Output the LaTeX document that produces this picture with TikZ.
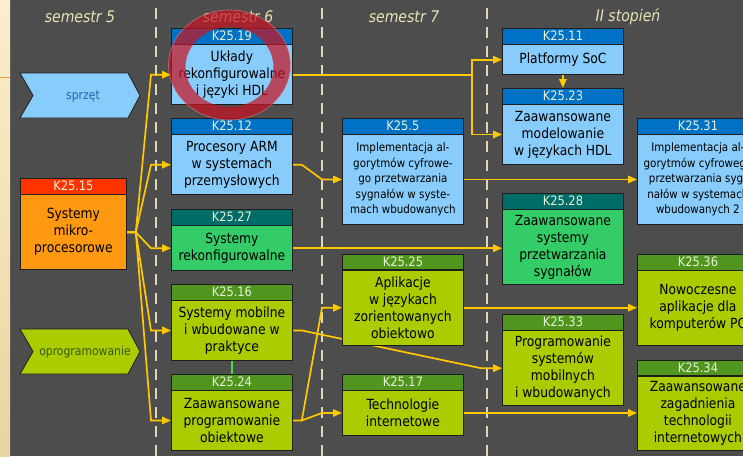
\documentclass[tikz,border=0pt]{standalone}
\usepackage{fontspec}
\setmainfont{DejaVu Sans}[FakeStretch=0.88]
\usetikzlibrary{arrows.meta}

\definecolor{tlo}{RGB}{77,77,77}
\definecolor{ramka}{RGB}{30,30,30}
\definecolor{hwciemny}{RGB}{0,114,198}
\definecolor{hwjasny}{RGB}{135,204,250}
\definecolor{dspciemny}{RGB}{0,108,104}
\definecolor{dspjasny}{RGB}{51,204,102}
\definecolor{swciemny}{RGB}{80,150,30}
\definecolor{swjasny}{RGB}{170,204,0}
\definecolor{mpciemny}{RGB}{255,51,0}
\definecolor{mpjasny}{RGB}{255,153,17}
\definecolor{napis}{RGB}{232,240,215}
\definecolor{strzalka}{RGB}{255,200,0}
\definecolor{kreska}{RGB}{220,215,185}
\definecolor{semtekst}{RGB}{232,226,180}
\definecolor{pierscien}{RGB}{200,20,35}
\definecolor{zielony}{RGB}{60,230,60}
\definecolor{sprzettekst}{RGB}{40,100,170}
\definecolor{oprogtekst}{RGB}{60,90,10}
\definecolor{pasgora}{RGB}{252,238,205}
\definecolor{pasdol}{RGB}{232,214,160}
\definecolor{paslinia}{RGB}{240,160,60}

\pgfdeclarelayer{bg}
\pgfdeclarelayer{wires}
\pgfsetlayers{bg,wires,main}

% course box: header with code, body with title
\newcommand{\kurs}[8][]{%
	\node[#3head, anchor=north west] (#2h) at (#4,#5) {#6};
	\node[#3body, #1, anchor=north, minimum height=#7pt] (#2) at (#2h.south) {#8};}

\begin{document}
\begin{tikzpicture}[x=1pt,y=-1pt,
	kbox/.style={draw=ramka, line width=0.8pt, minimum width=121pt, inner sep=0pt, align=center},
	khead/.style={kbox, minimum height=15.5pt, text=napis, font=\fontsize{13}{15}\selectfont},
	kbody/.style={kbox, text=black, font=\fontsize{14}{17}\selectfont},
	hwhead/.style={khead, fill=hwciemny},
	hwbody/.style={kbody, fill=hwjasny},
	dsphead/.style={khead, fill=dspciemny},
	dspbody/.style={kbody, fill=dspjasny},
	swhead/.style={khead, fill=swciemny},
	swbody/.style={kbody, fill=swjasny},
	mphead/.style={khead, fill=mpciemny, minimum width=106pt},
	mpbody/.style={kbody, fill=mpjasny, minimum width=106pt},
	maly/.style={font=\fontsize{11.7}{15.5}\selectfont},
	link/.style={draw=strzalka, line width=1.7pt, -{Triangle[length=9pt,width=7.5pt]}},
	sem/.style={text=semtekst, font=\fontsize{16}{18}\selectfont\itshape},
	chevron/.style={draw=ramka, line width=0.8pt},
]

	\useasboundingbox (0,0) rectangle (743,456);
	\clip (0,0) rectangle (743,456);

	% background, left strip and semester borders
	\begin{pgfonlayer}{bg}
		\fill[tlo] (0,0) rectangle (743,456);
		\shade[top color=pasgora, bottom color=pasdol] (0,0) rectangle (10,456);
		\draw[paslinia, line width=0.8pt] (0,77) -- (10,77);
		\foreach \x in {156,322,487}
			\draw[kreska, line width=1.5pt, dash pattern=on 11pt off 8pt] (\x,8) -- (\x,456);
	\end{pgfonlayer}

	% semester labels
	\node[sem] (s5) at (80,17) {semestr 5};
	\node[sem] (s6) at (238,17) {semestr 6};
	\node[sem] (s7) at (404,17) {semestr 7};
	\node[sem] (s2) at (628,17) {II stopień};

	% chevrons
	\filldraw[chevron, fill=hwjasny] (20,73) -- (128,73) -- (140,95.5) -- (128,118) -- (20,118) -- (33,95.5) -- cycle;
	\node[text=sprzettekst, font=\fontsize{12.3}{14}\selectfont] (sprzet) at (83,96) {sprzęt};
	\filldraw[chevron, fill=swjasny] (20,329) -- (128,329) -- (140,351.5) -- (128,374) -- (20,374) -- (33,351.5) -- cycle;
	\node[text=oprogtekst, font=\fontsize{12.3}{14}\selectfont] (oprog) at (85,352) {oprogramowanie};

	% courses
	\kurs[]{k15}{mp}{20}{178}{K25.15}{75}{Systemy\\mikro-\\procesorowe}
	\kurs[]{k19}{hw}{171}{28}{K25.19}{60}{Układy\\rekonfigurowalne\\i języki HDL}
	\kurs[]{k12}{hw}{171}{118}{K25.12}{60}{Procesory ARM\\w systemach\\przemysłowych}
	\kurs[]{k27}{dsp}{171}{209}{K25.27}{45}{Systemy\\rekonfigurowalne}
	\kurs[]{k16}{sw}{171}{284}{K25.16}{59.5}{Systemy mobilne\\i wbudowane w\\praktyce}
	\kurs[]{k24}{sw}{171}{374}{K25.24}{59.5}{Zaawansowane\\programowanie\\obiektowe}
	\kurs[maly]{k5}{hw}{342}{118}{K25.5}{89.5}{Implementacja al-\\gorytmów cyfrowe-\\go przetwarzania\\sygnałów w syste-\\mach wbudowanych}
	\kurs[]{k25}{sw}{342}{253.5}{K25.25}{75}{Aplikacje\\w językach\\zorientowanych\\obiektowo}
	\kurs[]{k17}{sw}{342}{374}{K25.17}{44.5}{Technologie\\internetowe}
	\kurs[]{k11}{hw}{502}{28}{K25.11}{30}{Platformy SoC}
	\kurs[]{k23}{hw}{502}{88}{K25.23}{59.5}{Zaawansowane\\modelowanie\\w językach HDL}
	\kurs[]{k28}{dsp}{502}{193}{K25.28}{75}{Zaawansowane\\systemy\\przetwarzania\\sygnałów}
	\kurs[]{k33}{sw}{502}{314}{K25.33}{75}{Programowanie\\systemów\\mobilnych\\i wbudowanych}
	\kurs[maly]{k31}{hw}{637}{118}{K25.31}{89.5}{Implementacja al-\\gorytmów cyfrowego\\przetwarzania syg-\\nałów w systemach\\wbudowanych 2}
	\kurs[]{k36}{sw}{637}{254}{K25.36}{75}{Nowoczesne\\aplikacje dla\\komputerów PC}
	\kurs[]{k34}{sw}{637}{359.5}{K25.34}{74.5}{Zaawansowane\\zagadnienia\\technologii\\internetowych}

	% connectors
	\begin{pgfonlayer}{wires}
		\coordinate (f15) at ([xshift=9pt]k15.east);
		\foreach \t in {k19,k12,k27,k16,k24}
			\draw[link] (k15.east) -- (f15) -- ([xshift=-20pt]\t.west) -- (\t.west);
		\path (k19.east -| k11.west) ++(-30,0) coordinate (r19);
		\draw[link] (k19.east) -- (r19) |- (k11.west);
		\draw[link] (r19) |- (k23.west);
		\draw[link] (k11.south) -- (k23h.north);
		\draw[link] (k12.east) -- ++(9,0) -- ([xshift=-20pt]k5.west) -- (k5.west);
		\draw[link] (k5.east) -- (k5.east -| k31.west);
		\draw[link] (k27.east) -- (k27.east -| k28.west);
		\draw[link] (k16.east) -- ++(9,0) -- ([xshift=-21pt]k33.west) -- (k33.west);
		\coordinate (f24) at ([xshift=9pt]k24.east);
		\draw[link] (k24.east) -- (f24) -- ([xshift=-20pt]k25.west) -- (k25.west);
		\draw[link] (f24) -- ([xshift=-20pt]k17.west) -- (k17.west);
		\draw[link] (k25.east) -- (k25.east -| k36.west);
		\draw[link] (k17.east) -- (k17.east -| k34.west);
		\draw[zielony, line width=1.8pt] (k16.south) -- (k24h.north);
	\end{pgfonlayer}

	% highlight ring
	\fill[pierscien, opacity=0.72, even odd rule] (229.5,65) ellipse [x radius=61pt, y radius=55pt]
		(229.5,67) ellipse [x radius=44pt, y radius=40pt];
	\draw[white!55!pierscien, opacity=0.6, line width=0.6pt] (229.5,65) ellipse [x radius=61pt, y radius=55pt];

\end{tikzpicture}
\end{document}
